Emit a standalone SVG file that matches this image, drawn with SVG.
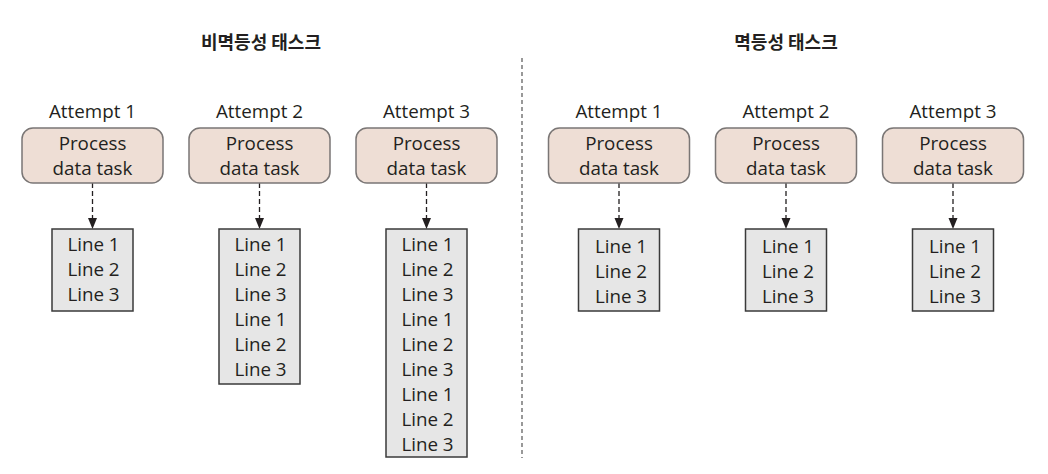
<svg xmlns="http://www.w3.org/2000/svg" width="1048" height="474" viewBox="0 0 1048 474">
<defs>
<style>
.t{font-family:"Open Sans","Noto Sans",sans-serif;font-size:18.8px;fill:#231f20;text-anchor:middle}
.h{font-family:"Noto Sans CJK KR","Noto Sans",sans-serif;font-size:18px;font-weight:bold;fill:#231f20;text-anchor:middle}
.task{fill:#eeded5;stroke:#7a7675;stroke-width:1.5}
.out{fill:#e6e6e6;stroke:#3a3a3a;stroke-width:1.5}
.c{stroke:#231f20;stroke-width:1.3;stroke-dasharray:5 3;fill:none}
.div{stroke:#555;stroke-width:1.2;stroke-dasharray:4 3}
.ah{fill:#231f20}
</style>
</defs>
<rect width="1048" height="474" fill="#ffffff"/>
<g id="titles">
<text class="h" x="261" y="49">비멱등성 태스크</text>
<text class="h" x="786" y="49">멱등성 태스크</text>
</g>
<line class="div" x1="522" y1="58" x2="522" y2="458"/>
<g id="connectors">
<line class="c" x1="92.5" y1="183" x2="92.5" y2="218"/><path class="ah" d="M88,218 L97,218 L92.5,229 Z"/>
<line class="c" x1="259.5" y1="183" x2="259.5" y2="218"/><path class="ah" d="M255,218 L264,218 L259.5,229 Z"/>
<line class="c" x1="426.5" y1="183" x2="426.5" y2="218"/><path class="ah" d="M422,218 L431,218 L426.5,229 Z"/>
<line class="c" x1="619" y1="183" x2="619" y2="218"/><path class="ah" d="M614.5,218 L623.5,218 L619,229 Z"/>
<line class="c" x1="786" y1="183" x2="786" y2="218"/><path class="ah" d="M781.5,218 L790.5,218 L786,229 Z"/>
<line class="c" x1="953" y1="183" x2="953" y2="218"/><path class="ah" d="M948.5,218 L957.5,218 L953,229 Z"/>
</g>
<g id="nonidem-attempt1">
<text class="t" x="92.5" y="118">Attempt 1</text>
<rect class="task" x="22" y="128" width="141" height="55" rx="11"/>
<text class="t" x="92.5" y="150">Process</text>
<text class="t" x="92.5" y="175">data task</text>
</g>
<g id="nonidem-attempt2">
<text class="t" x="259.5" y="118">Attempt 2</text>
<rect class="task" x="189" y="128" width="141" height="55" rx="11"/>
<text class="t" x="259.5" y="150">Process</text>
<text class="t" x="259.5" y="175">data task</text>
</g>
<g id="nonidem-attempt3">
<text class="t" x="426.5" y="118">Attempt 3</text>
<rect class="task" x="356" y="128" width="141" height="55" rx="11"/>
<text class="t" x="426.5" y="150">Process</text>
<text class="t" x="426.5" y="175">data task</text>
</g>
<g id="nonidem-out1">
<rect class="out" x="52" y="229" width="81" height="82"/>
<text class="t" x="93.5" y="251">Line 1</text>
<text class="t" x="93.5" y="276">Line 2</text>
<text class="t" x="93.5" y="301">Line 3</text>
</g>
<g id="nonidem-out2">
<rect class="out" x="219" y="229" width="81" height="155"/>
<text class="t" x="260.5" y="251">Line 1</text>
<text class="t" x="260.5" y="276">Line 2</text>
<text class="t" x="260.5" y="301">Line 3</text>
<text class="t" x="260.5" y="326">Line 1</text>
<text class="t" x="260.5" y="351">Line 2</text>
<text class="t" x="260.5" y="376">Line 3</text>
</g>
<g id="nonidem-out3">
<rect class="out" x="386" y="229" width="81" height="228"/>
<text class="t" x="427.5" y="251">Line 1</text>
<text class="t" x="427.5" y="276">Line 2</text>
<text class="t" x="427.5" y="301">Line 3</text>
<text class="t" x="427.5" y="326">Line 1</text>
<text class="t" x="427.5" y="351">Line 2</text>
<text class="t" x="427.5" y="376">Line 3</text>
<text class="t" x="427.5" y="401">Line 1</text>
<text class="t" x="427.5" y="426">Line 2</text>
<text class="t" x="427.5" y="451">Line 3</text>
</g>
<g id="idem-attempt1">
<text class="t" x="619" y="118">Attempt 1</text>
<rect class="task" x="548.5" y="128" width="141" height="55" rx="11"/>
<text class="t" x="619" y="150">Process</text>
<text class="t" x="619" y="175">data task</text>
</g>
<g id="idem-attempt2">
<text class="t" x="786" y="118">Attempt 2</text>
<rect class="task" x="715.5" y="128" width="141" height="55" rx="11"/>
<text class="t" x="786" y="150">Process</text>
<text class="t" x="786" y="175">data task</text>
</g>
<g id="idem-attempt3">
<text class="t" x="953" y="118">Attempt 3</text>
<rect class="task" x="882.5" y="128" width="141" height="55" rx="11"/>
<text class="t" x="953" y="150">Process</text>
<text class="t" x="953" y="175">data task</text>
</g>
<g id="idem-out1">
<rect class="out" x="578.5" y="229" width="81" height="82"/>
<text class="t" x="621" y="253">Line 1</text>
<text class="t" x="621" y="278">Line 2</text>
<text class="t" x="621" y="303">Line 3</text>
</g>
<g id="idem-out2">
<rect class="out" x="745.5" y="229" width="81" height="82"/>
<text class="t" x="788" y="253">Line 1</text>
<text class="t" x="788" y="278">Line 2</text>
<text class="t" x="788" y="303">Line 3</text>
</g>
<g id="idem-out3">
<rect class="out" x="912.5" y="229" width="81" height="82"/>
<text class="t" x="955" y="253">Line 1</text>
<text class="t" x="955" y="278">Line 2</text>
<text class="t" x="955" y="303">Line 3</text>
</g>
</svg>
